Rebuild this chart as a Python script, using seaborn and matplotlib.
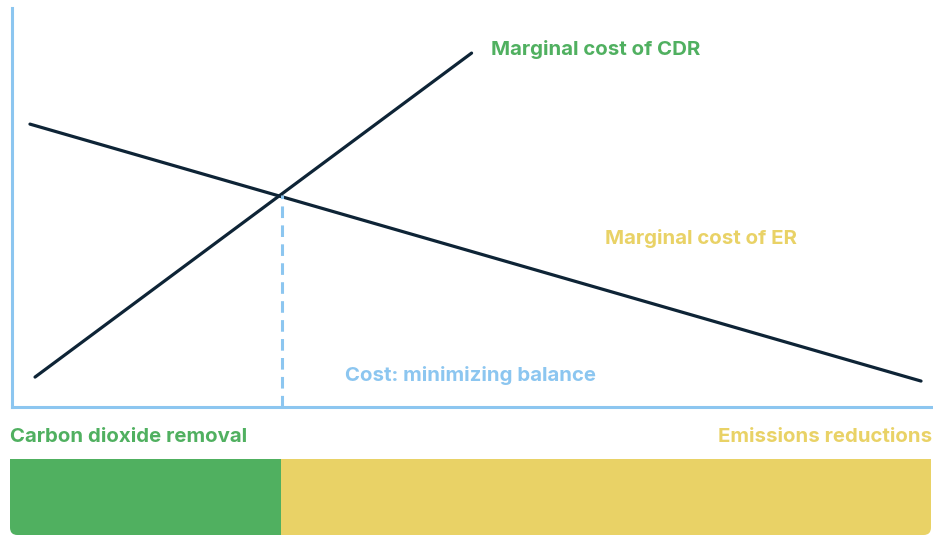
import matplotlib
matplotlib.use("Agg")
import matplotlib.pyplot as plt
from matplotlib.patches import FancyBboxPatch
import pandas as pd
import seaborn as sns

# chart data (x and y on a 0-100 scale)
er_x = [1.95, 98.7]
er_y = [70.9, 6.5]
cdr_x = [2.5, 49.9]
cdr_y = [7.5, 88.7]
balance_x = 29.3
balance_y = 53.2
shares = [29.4, 70.6]
share_labels = ["Carbon dioxide removal", "Emissions reductions"]

navy = "#0e2436"
blue = "#8cc6f0"
green = "#50b060"
yellow = "#e9d266"

sns.set_style("white")
plt.rcParams["font.family"] = ["Inter", "DejaVu Sans"]

fig = plt.figure(figsize=(9.33, 5.35), dpi=100)
W, H = 933, 535
ax = fig.add_axes([12 / W, (H - 407) / H, (933 - 12) / W, (407 - 8) / H])

lines = pd.concat([
    pd.DataFrame({"x": er_x, "y": er_y, "curve": "ER"}),
    pd.DataFrame({"x": cdr_x, "y": cdr_y, "curve": "CDR"}),
])
sns.lineplot(data=lines, x="x", y="y", units="curve", estimator=None,
             color=navy, linewidth=2.3, ax=ax, sort=False)
ax.plot([balance_x, balance_x], [0, balance_y], color=blue, linewidth=2.2,
        linestyle=(0, (3.8, 2.4)))

ax.set_xlim(0, 100)
ax.set_ylim(0, 100)
ax.set_xticks([])
ax.set_yticks([])
ax.set_xlabel("")
ax.set_ylabel("")
for s in ["top", "right"]:
    ax.spines[s].set_visible(False)
for s in ["left", "bottom"]:
    ax.spines[s].set_color(blue)
    ax.spines[s].set_linewidth(2.2)

fs = 14.7
ax.text(52.0, 89.5, "Marginal cost of CDR", color=green, fontsize=fs,
        fontweight="bold", va="center")
ax.text(64.4, 42.2, "Marginal cost of ER", color=yellow, fontsize=fs,
        fontweight="bold", va="center")
ax.text(36.2, 8.0, "Cost: minimizing balance", color=blue, fontsize=fs,
        fontweight="bold", va="center")

fig.text(10 / W, 1 - 436.5 / H, share_labels[0], color=green, fontsize=fs,
         fontweight="bold", va="center", ha="left")
fig.text(932 / W, 1 - 436.5 / H, share_labels[1], color=yellow, fontsize=fs,
         fontweight="bold", va="center", ha="right")

# bottom share bar
bx = fig.add_axes([10 / W, 0, (931 - 10) / W, (535 - 459) / H])
bars = pd.DataFrame({"part": share_labels, "share": shares})
left = 0
for i, row in bars.iterrows():
    bx.barh(0, row["share"], left=left, height=1, color=[green, yellow][i],
            edgecolor="none")
    left += row["share"]
bx.set_xlim(0, 100)
bx.set_ylim(-0.5, 0.5)
bx.axis("off")
clip = FancyBboxPatch((0, 0), 1, 1.3, boxstyle="round,pad=0,rounding_size=0.008",
                      transform=bx.transAxes, facecolor="none", edgecolor="none",
                      mutation_aspect=bx.get_position().width * W / (bx.get_position().height * H))
bx.add_patch(clip)
for p in bx.patches:
    if p is not clip:
        p.set_clip_path(clip)

fig.savefig("out.png", dpi=100)
